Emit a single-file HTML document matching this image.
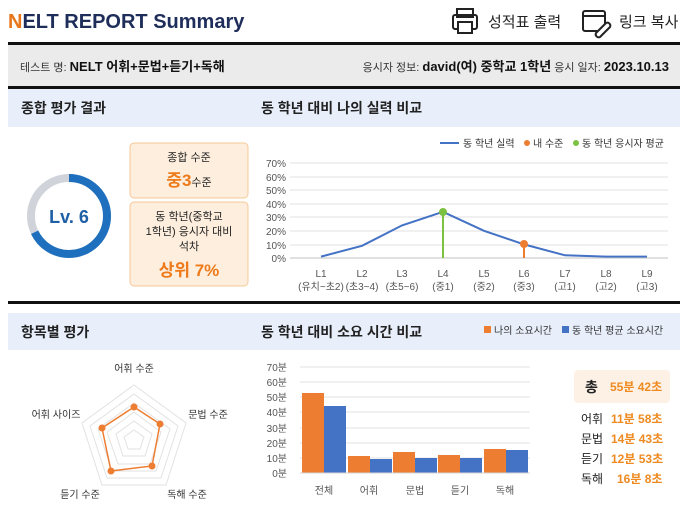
<!DOCTYPE html>
<html><head><meta charset="utf-8"><style>
body{margin:0;width:688px;height:507px;background:#fff;overflow:hidden;font-family:"Liberation Sans","Noto Sans CJK KR",sans-serif;}
svg text{font-family:"Liberation Sans","Noto Sans CJK KR",sans-serif;}
</style></head><body>
<svg width="688" height="507" viewBox="0 0 688 507" xmlns="http://www.w3.org/2000/svg">
<!-- header -->
<text x="8" y="28" font-size="20" font-weight="bold" fill="#1f2d5a"><tspan fill="#e8761a">N</tspan>ELT REPORT Summary</text>
<!-- print icon -->
<g fill="none" stroke="#222" stroke-width="2">
<rect x="457" y="9" width="16" height="8"/><rect x="453" y="15" width="24" height="14" rx="2"/><rect x="458" y="22" width="14" height="11" fill="#fff"/>
</g>
<text x="488" y="27" font-size="15" fill="#222">성적표 출력</text>
<g fill="none" stroke="#222" stroke-width="2">
<rect x="583" y="11" width="22" height="20" rx="2"/><line x1="583" y1="16" x2="605" y2="16"/>
<path d="M596 33 l10 -10 a3 3 0 0 1 4 4 l-10 10 a3 3 0 0 1 -4 -4z" fill="#fff"/>
</g>
<text x="619" y="27" font-size="15" fill="#222">링크 복사</text>
<rect x="8" y="42" width="672" height="3" fill="#111"/>
<rect x="8" y="45" width="672" height="42" fill="#ebebeb"/>
<text x="20" y="71" font-size="11" fill="#333">테스트 명: <tspan font-size="13" font-weight="bold" fill="#111">NELT 어휘+문법+듣기+독해</tspan></text>
<text x="669" y="71" font-size="11" fill="#333" text-anchor="end">응시자 정보: <tspan font-size="13" font-weight="bold" fill="#111">david(여)  중학교 1학년</tspan>  응시 일자: <tspan font-size="13" font-weight="bold" fill="#111">2023.10.13</tspan></text>
<rect x="8" y="86" width="672" height="3" fill="#111"/>
<rect x="8" y="89" width="672" height="38" fill="#e8effb"/>
<text x="21" y="113" font-size="14" font-weight="bold" fill="#222">종합 평가 결과</text>
<text x="261" y="113" font-size="14" font-weight="bold" fill="#222">동 학년 대비 나의 실력 비교</text>

<!-- gauge -->
<circle cx="69" cy="216" r="38" fill="none" stroke="#d0d4da" stroke-width="8"/>
<circle cx="69" cy="216" r="38" fill="none" stroke="#1e6fbd" stroke-width="8" stroke-dasharray="162 239" transform="rotate(-90 69 216)"/>
<text x="69" y="223" font-size="18" font-weight="bold" fill="#1e5fa5" text-anchor="middle">Lv. 6</text>
<!-- boxes -->
<rect x="130" y="143" width="118" height="55" rx="4" fill="#fdeedd" stroke="#f5c898"/>
<text x="189" y="161" font-size="11" fill="#222" text-anchor="middle">종합 수준</text>
<text x="189" y="186" font-size="11" fill="#222" text-anchor="middle"><tspan font-size="17" font-weight="bold" fill="#ee7a1a">중3</tspan>수준</text>
<rect x="130" y="202" width="118" height="84" rx="4" fill="#fdeedd" stroke="#f5c898"/>
<text x="189" y="220" font-size="11" fill="#222" text-anchor="middle">동 학년(중학교</text>
<text x="189" y="235" font-size="11" fill="#222" text-anchor="middle">1학년) 응시자 대비</text>
<text x="189" y="250" font-size="11" fill="#222" text-anchor="middle">석차</text>
<text x="189" y="276" font-size="17" font-weight="bold" fill="#ee7a1a" text-anchor="middle">상위 7%</text>

<!-- line chart -->
<g stroke="#e2e2e2" stroke-width="1">
<line x1="290" y1="163" x2="668" y2="163"/><line x1="290" y1="177" x2="668" y2="177"/><line x1="290" y1="190" x2="668" y2="190"/><line x1="290" y1="204" x2="668" y2="204"/><line x1="290" y1="217" x2="668" y2="217"/><line x1="290" y1="231" x2="668" y2="231"/><line x1="290" y1="245" x2="668" y2="245"/>
</g>
<line x1="290" y1="258" x2="668" y2="258" stroke="#d6d6d6" stroke-width="1.5"/>
<g font-size="10" fill="#555" text-anchor="end">
<text x="286" y="167">70%</text><text x="286" y="181">60%</text><text x="286" y="194">50%</text><text x="286" y="208">40%</text><text x="286" y="221">30%</text><text x="286" y="235">20%</text><text x="286" y="249">10%</text><text x="286" y="262">0%</text>
</g>
<polyline fill="none" stroke="#4472c4" stroke-width="2" points="321,256.6 362,245.8 402,225.4 443,211.8 484,230.8 524,244.4 565,255.3 606,256.6 647,256.6"/>
<line x1="443" y1="212" x2="443" y2="258" stroke="#7cc142" stroke-width="2"/>
<circle cx="443" cy="212" r="4" fill="#7cc142"/>
<line x1="524" y1="244" x2="524" y2="258" stroke="#ed7d31" stroke-width="2"/>
<circle cx="524" cy="244" r="4" fill="#ed7d31"/>
<g font-size="10" fill="#555" text-anchor="middle">
<text x="321" y="277">L1</text><text x="321" y="290">(유치~초2)</text>
<text x="362" y="277">L2</text><text x="362" y="290">(초3~4)</text>
<text x="402" y="277">L3</text><text x="402" y="290">(초5~6)</text>
<text x="443" y="277">L4</text><text x="443" y="290">(중1)</text>
<text x="484" y="277">L5</text><text x="484" y="290">(중2)</text>
<text x="524" y="277">L6</text><text x="524" y="290">(중3)</text>
<text x="565" y="277">L7</text><text x="565" y="290">(고1)</text>
<text x="606" y="277">L8</text><text x="606" y="290">(고2)</text>
<text x="647" y="277">L9</text><text x="647" y="290">(고3)</text>
</g>
<line x1="440" y1="143" x2="459" y2="143" stroke="#4472c4" stroke-width="2"/>
<text x="463" y="147" font-size="10" fill="#333">동 학년 실력</text>
<circle cx="527" cy="143" r="3" fill="#ed7d31"/><text x="533" y="147" font-size="10" fill="#333">내 수준</text>
<circle cx="576" cy="143" r="3" fill="#7cc142"/><text x="582" y="147" font-size="10" fill="#333">동 학년 응시자 평균</text>

<rect x="8" y="301" width="672" height="3" fill="#111"/>
<rect x="8" y="313" width="672" height="37" fill="#e8effb"/>
<text x="21" y="337" font-size="14" font-weight="bold" fill="#222">항목별 평가</text>
<text x="261" y="337" font-size="14" font-weight="bold" fill="#222">동 학년 대비 소요 시간 비교</text>
<rect x="484" y="326" width="7" height="7" fill="#ed7d31"/><text x="494" y="334" font-size="10" fill="#333">나의 소요시간</text>
<rect x="562" y="326" width="7" height="7" fill="#4472c4"/><text x="572" y="334" font-size="10" fill="#333">동 학년 평균 소요시간</text>

<!-- radar -->
<g fill="none" stroke="#e2e2e2" stroke-width="1">
<polygon points="134,385 186,423 166,485 102,485 82,423"/>
<polygon points="134,394 178,426 161,478 107,478 90,426"/>
<polygon points="134,403 170,429 156,471 112,471 98,429"/>
<polygon points="134,412 161,432 150,464 118,464 107,432"/>
<polygon points="134,421 152,434 145,456 123,456 116,434"/>
<polygon points="134,430 144,437 140,449 128,449 124,437"/>
</g>
<polygon points="134,407 160,424 152,466 111,471 102,428" fill="none" stroke="#ed7d31" stroke-width="1.5"/>
<g fill="#ed7d31"><circle cx="134" cy="407" r="3.5"/><circle cx="160" cy="424" r="3.5"/><circle cx="152" cy="466" r="3.5"/><circle cx="111" cy="471" r="3.5"/><circle cx="102" cy="428" r="3.5"/></g>
<g font-size="10" fill="#333" text-anchor="middle">
<text x="134" y="372">어휘 수준</text><text x="208" y="418">문법 수준</text><text x="187" y="498">독해 수준</text><text x="80" y="498">듣기 수준</text><text x="56" y="418">어휘 사이즈</text>
</g>

<!-- bar chart -->
<g stroke="#e2e2e2" stroke-width="1">
<line x1="300" y1="367" x2="530" y2="367"/><line x1="300" y1="382" x2="530" y2="382"/><line x1="300" y1="397" x2="530" y2="397"/><line x1="300" y1="412" x2="530" y2="412"/><line x1="300" y1="428" x2="530" y2="428"/><line x1="300" y1="443" x2="530" y2="443"/><line x1="300" y1="458" x2="530" y2="458"/>
</g>
<g font-size="10" fill="#555" text-anchor="end">
<text x="287" y="371">70분</text><text x="287" y="386">60분</text><text x="287" y="401">50분</text><text x="287" y="416">40분</text><text x="287" y="432">30분</text><text x="287" y="447">20분</text><text x="287" y="462">10분</text><text x="287" y="477">0분</text>
</g>
<g fill="#ed7d31">
<rect x="302" y="393" width="22" height="80"/><rect x="348" y="456" width="22" height="17"/><rect x="393" y="452" width="22" height="21"/><rect x="438" y="455" width="22" height="18"/><rect x="484" y="449" width="22" height="24"/>
</g>
<g fill="#4472c4">
<rect x="324" y="406" width="22" height="67"/><rect x="370" y="459" width="22" height="14"/><rect x="415" y="458" width="22" height="15"/><rect x="460" y="458" width="22" height="15"/><rect x="506" y="450" width="22" height="23"/>
</g>
<line x1="300" y1="473" x2="530" y2="473" stroke="#d6d6d6"/>
<g font-size="10" fill="#555" text-anchor="middle">
<text x="324" y="494">전체</text><text x="369" y="494">어휘</text><text x="415" y="494">문법</text><text x="460" y="494">듣기</text><text x="505" y="494">독해</text>
</g>

<!-- times -->
<rect x="574" y="370" width="96" height="33" rx="4" fill="#fdf1e6"/>
<text x="585" y="392" font-size="14" font-weight="bold" fill="#222">총</text>
<text x="610" y="391" font-size="12" font-weight="bold" fill="#ee8a1f">55분 42초</text>
<g font-size="12">
<text x="581" y="423" fill="#222">어휘</text><text x="611" y="423" font-weight="bold" fill="#ee8a1f">11분 58초</text>
<text x="581" y="443" fill="#222">문법</text><text x="611" y="443" font-weight="bold" fill="#ee8a1f">14분 43초</text>
<text x="581" y="463" fill="#222">듣기</text><text x="611" y="463" font-weight="bold" fill="#ee8a1f">12분 53초</text>
<text x="581" y="483" fill="#222">독해</text><text x="617" y="483" font-weight="bold" fill="#ee8a1f">16분 8초</text>
</g>
</svg>
</body></html>
